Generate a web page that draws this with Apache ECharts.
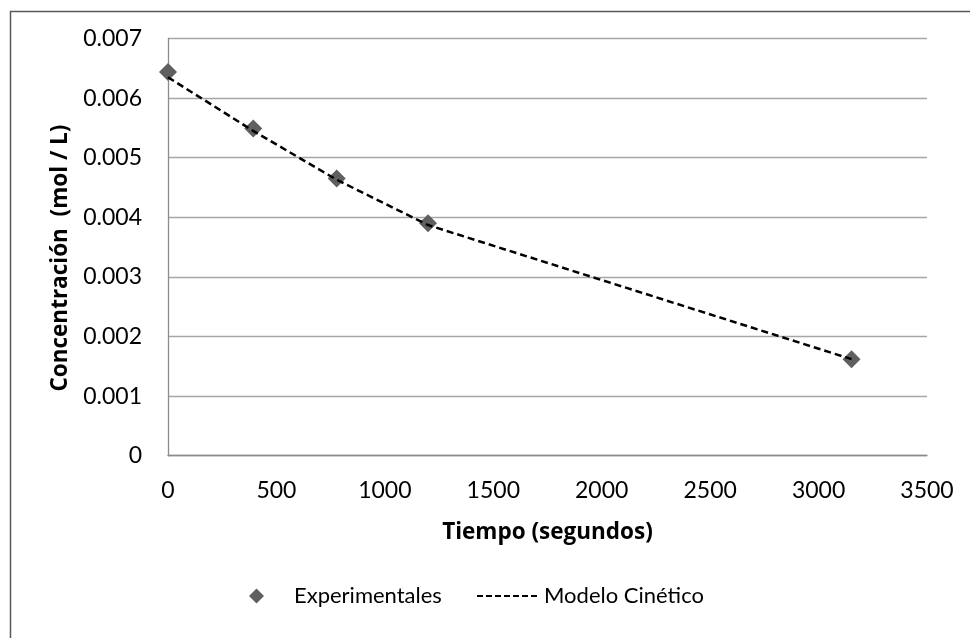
<!DOCTYPE html>
<html>
<head>
<meta charset="utf-8">
<script src="https://cdn.jsdelivr.net/npm/echarts@6/dist/echarts.min.js"></script>
<style>
html,body{margin:0;padding:0;background:#fff;}
#chart{width:970px;height:638px;}
</style>
</head>
<body>
<div id="chart"></div>
<script>
const xTicks = [0, 500, 1000, 1500, 2000, 2500, 3000, 3500];
const yTicks = [0, 0.001, 0.002, 0.003, 0.004, 0.005, 0.006, 0.007];
const timeExp = [0, 393, 778, 1199, 3152];
const concExp = [0.00644, 0.00549, 0.00465, 0.00390, 0.00162];
const timeModel = [0, 393, 778, 1199, 3152];
const concModel = [0.00635, 0.00545, 0.00463, 0.00387, 0.00162];
const seriesNames = ['Experimentales', 'Modelo Cinético'];
const xTitle = 'Tiempo (segundos)';
const yTitle = 'Concentración  (mol / L)';

const FONT = 'Lato';
const TFONT = 'Open Sans';
const chart = echarts.init(document.getElementById('chart'), null, {renderer: 'canvas'});
chart.setOption({
  animation: false,
  backgroundColor: '#fff',
  textStyle: {fontFamily: FONT},
  grid: {left: 168, top: 38.5, right: 43, bottom: 182.3},
  graphic: [{
    type: 'rect', left: 8, top: 9, silent: true, z: -1,
    shape: {x: 0, y: 0, width: 1000, height: 700},
    style: {fill: 'none', stroke: '#595959', lineWidth: 1.5}
  }],
  legend: [{
    data: [seriesNames[0]], left: 244, top: 580,
    itemWidth: 15, itemHeight: 15,
    itemStyle: {opacity: 1},
    textStyle: {fontFamily: FONT, fontSize: 22, color: '#000', padding: [0, 0, 0, 25]}
  }, {
    data: [seriesNames[1]], left: 471, top: 580,
    itemWidth: 62, itemHeight: 15,
    itemStyle: {color: 'transparent', borderWidth: 0, opacity: 0},
    lineStyle: {type: [6, 3], width: 2},
    textStyle: {fontFamily: FONT, fontSize: 22, color: '#000'}
  }],
  xAxis: {
    type: 'value', min: xTicks[0], max: xTicks[xTicks.length - 1], interval: 500,
    name: xTitle, nameLocation: 'middle', nameGap: 65,
    nameTextStyle: {fontFamily: TFONT, fontSize: 22.5, fontWeight: 'bold', color: '#000'},
    axisLine: {show: true, lineStyle: {color: '#8c8c8c', width: 1.3}},
    axisTick: {show: false},
    axisLabel: {fontFamily: FONT, fontSize: 23, color: '#000', margin: 23,
      formatter: v => String(v)},
    splitLine: {show: false}
  },
  yAxis: {
    type: 'value', min: yTicks[0], max: yTicks[yTicks.length - 1], interval: 0.001,
    name: yTitle, nameLocation: 'middle', nameGap: 95,
    nameTextStyle: {fontFamily: TFONT, fontSize: 22.5, fontWeight: 'bold', color: '#000',
      padding: [0, 22, 0, 0]},
    axisLine: {show: true, lineStyle: {color: '#8c8c8c', width: 1.3}},
    axisTick: {show: false},
    axisLabel: {fontFamily: FONT, fontSize: 23, color: '#000', margin: 26,
      formatter: v => v === 0 ? '0' : v.toFixed(3)},
    splitLine: {show: true, lineStyle: {color: '#a6a6a6', width: 1.3}}
  },
  series: [{
    name: seriesNames[0], type: 'scatter', symbol: 'diamond', symbolSize: 18,
    itemStyle: {color: '#5f5f5f', opacity: 1},
    data: timeExp.map((t, i) => [t, concExp[i]]), z: 2
  }, {
    name: seriesNames[1], type: 'line', symbol: 'none', showSymbol: false,
    lineStyle: {color: '#000', width: 2.5, type: [7, 4]},
    itemStyle: {color: '#000'},
    data: timeModel.map((t, i) => [t, concModel[i]]), z: 3
  }]
});
</script>
</body>
</html>
